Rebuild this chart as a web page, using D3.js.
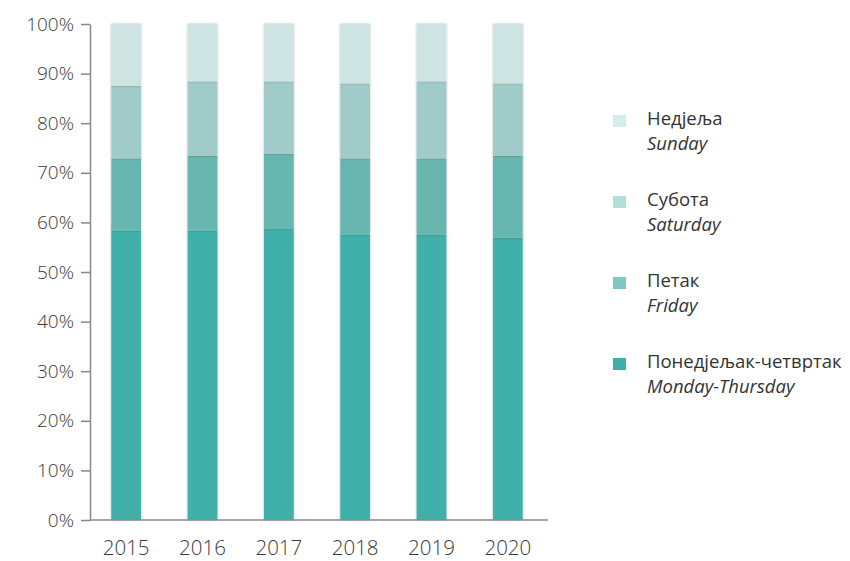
<!DOCTYPE html>
<html>
<head>
<meta charset="utf-8">
<script src="https://cdn.jsdelivr.net/npm/d3@7"></script>
<style>
  body { margin: 0; background: #fff; }
  svg text { font-family: "Open Sans", sans-serif; font-weight: 300; fill: #3a3a3a; }
  svg .legend text { font-weight: 400; fill: #333; }
</style>
</head>
<body>
<div class="graph"></div>
<script>
// years on the x axis
var years = ["2015", "2016", "2017", "2018", "2019", "2020"];

// share of each group, in %
var monThu   = [58.3, 58.3, 58.7, 57.5, 57.5, 56.9];
var friday   = [14.6, 15.1, 15.1, 15.4, 15.4, 16.5];
var saturday = [14.6, 15.0, 14.6, 15.1, 15.5, 14.6];
var sunday   = [12.5, 11.6, 11.6, 12.0, 11.6, 12.0];

var yTicks = [0, 10, 20, 30, 40, 50, 60, 70, 80, 90, 100];

// stack order bottom -> top
var seriesKeys = ["monThu", "friday", "saturday", "sunday"];
var barColors = {monThu: "#41b0aa", friday: "#68b6b0", saturday: "#a1cbc8", sunday: "#cde4e2"};
var legendColors = {monThu: "#41aea8", friday: "#7ec8c3", saturday: "#b2dedb", sunday: "#d5ecea"};
var legendNames = {
  sunday: ["Недјеља", "Sunday"],
  saturday: ["Субота", "Saturday"],
  friday: ["Петак", "Friday"],
  monThu: ["Понедјељак-четвртак", "Monday-Thursday"]
};

var width = 850, height = 561;

// build rows for d3.stack
var rows = years.map(function(y, i) {
  return {year: y, monThu: monThu[i], friday: friday[i], saturday: saturday[i], sunday: sunday[i]};
});

var stacked = d3.stack().keys(seriesKeys)(rows);

var x = d3.scaleBand().domain(years).range([88, 546]).paddingInner(0.61).paddingOuter(0.305);
var y = d3.scaleLinear().domain([0, 100]).range([520, 24]);

var svg = d3.select("div.graph").append("svg")
    .attr("width", width)
    .attr("height", height);

var defs = svg.append("defs");
var shadow = defs.append("filter").attr("id", "shadow")
    .attr("x", "-30%").attr("y", "-5%").attr("width", "160%").attr("height", "110%");
shadow.append("feDropShadow")
    .attr("dx", 0).attr("dy", 0).attr("stdDeviation", 1.2)
    .attr("flood-color", "#000").attr("flood-opacity", 0.3);

// bars
var layer = svg.append("g").selectAll("g")
  .data(stacked)
  .enter().append("g")
    .attr("fill", function(d) { return barColors[d.key]; });

layer.selectAll("rect")
  .data(function(d) { return d; })
  .enter().append("rect")
    .attr("x", function(d) { return x(d.data.year); })
    .attr("width", x.bandwidth())
    .attr("y", function(d) { return y(d[1]); })
    .attr("height", function(d) { return y(d[0]) - y(d[1]); })
    .attr("filter", "url(#shadow)");

// y axis
var yAxis = svg.append("g")
    .attr("transform", "translate(90,0)")
    .call(d3.axisLeft(y).tickValues(yTicks).tickSize(9).tickSizeOuter(0)
      .tickFormat(function(d) { return d + "%"; }));
yAxis.selectAll("path, line").attr("stroke", "#888").attr("stroke-width", 1.5);
yAxis.selectAll("text").attr("font-size", 19).attr("x", -16).attr("fill", "#3a3a3a");

// x axis
var xAxis = svg.append("g")
    .attr("transform", "translate(0,520)")
    .call(d3.axisBottom(x).tickSize(0));
xAxis.select(".domain").remove();
xAxis.append("line")
    .attr("x1", 90).attr("x2", 548)
    .attr("stroke", "#888").attr("stroke-width", 1.5);
xAxis.selectAll("text").attr("font-size", 20.5).attr("y", 20).attr("dy", "0.71em").attr("fill", "#3a3a3a");

// legend, top to bottom
var legendOrder = ["sunday", "saturday", "friday", "monThu"];
var legend = svg.append("g").attr("class", "legend").selectAll("g")
  .data(legendOrder)
  .enter().append("g")
    .attr("transform", function(d, i) { return "translate(613," + (115 + i * 81) + ")"; });

legend.append("rect")
    .attr("width", 13).attr("height", 12)
    .attr("fill", function(d) { return legendColors[d]; });

legend.append("text")
    .attr("x", 34).attr("y", 10)
    .attr("font-size", 18.5)
    .text(function(d) { return legendNames[d][0]; });

legend.append("text")
    .attr("x", 34).attr("y", 35)
    .attr("font-size", 18.5)
    .attr("font-style", "italic")
    .text(function(d) { return legendNames[d][1]; });
</script>
</body>
</html>
